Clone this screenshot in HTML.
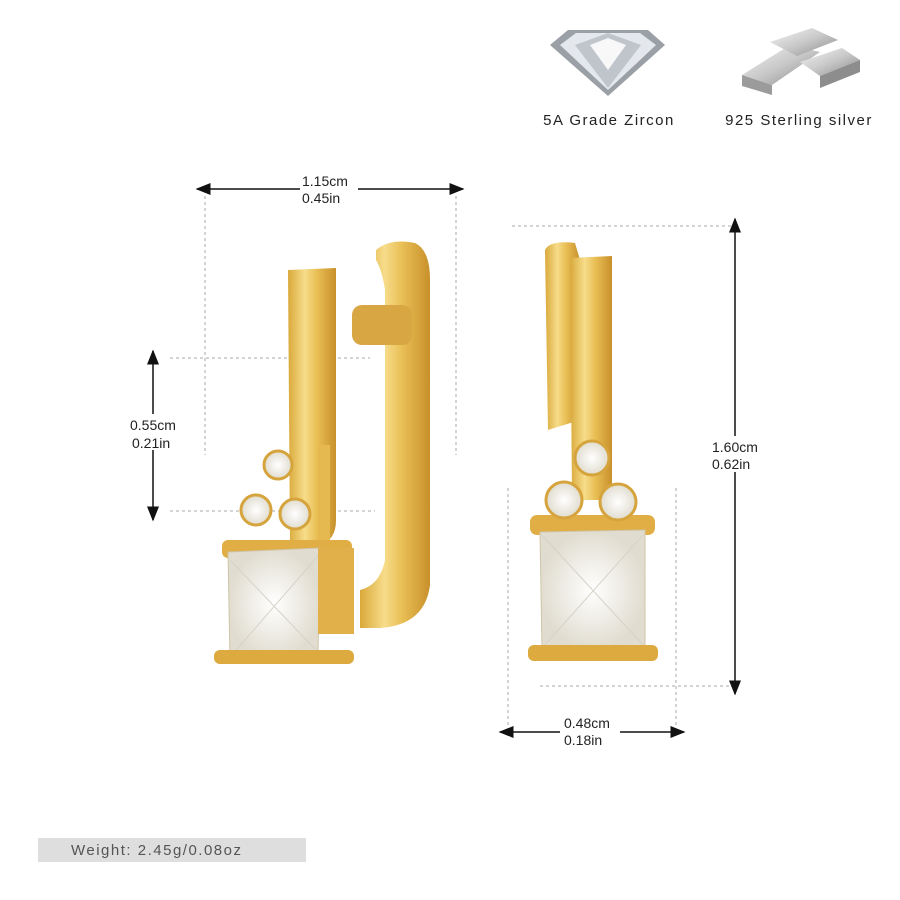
<!DOCTYPE html>
<html><head><meta charset="utf-8"><style>
body{margin:0;background:#fff;}
svg{display:block}
text{font-family:"Liberation Sans",sans-serif;}
</style></head><body>
<svg width="900" height="900" viewBox="0 0 900 900" xmlns="http://www.w3.org/2000/svg">
<defs>
<linearGradient id="g" x1="0" x2="1" y1="0" y2="0">
<stop offset="0" stop-color="#d9a93a"/><stop offset="0.35" stop-color="#f7dc8a"/><stop offset="0.6" stop-color="#e9bf55"/><stop offset="1" stop-color="#c8902a"/>
</linearGradient>
<linearGradient id="s" x1="0" x2="1" y1="0" y2="1">
<stop offset="0" stop-color="#f4f4f4"/><stop offset="0.5" stop-color="#c9c9c9"/><stop offset="1" stop-color="#8a8a8a"/>
</linearGradient>
<radialGradient id="st"><stop offset="0" stop-color="#fff"/><stop offset="1" stop-color="#e0dccf"/></radialGradient>
<marker id="a" markerWidth="10" markerHeight="10" refX="9" refY="5" orient="auto-start-reverse"><path d="M0,1 L10,5 L0,9 Z" fill="#111"/></marker>
</defs>

<!-- top icons -->
<path d="M550 45 L568 30 L648 30 L665 45 L608 96 Z" fill="#9aa0a6"/>
<path d="M560 45 L576 33 L640 33 L656 45 L608 90 Z" fill="#e4e8ec"/>
<path d="M575 45 L608 33 L641 45 L608 88 Z" fill="#bfc5cb"/>
<path d="M590 45 L608 38 L626 45 L608 70 Z" fill="#f8f8f8"/>
<path d="M742 75 L790 45 L820 52 L772 85 Z" fill="url(#s)"/>
<path d="M742 75 L772 85 L772 95 L742 86 Z" fill="#9b9b9b"/>
<path d="M770 42 L812 28 L838 40 L797 56 Z" fill="url(#s)"/>
<path d="M800 62 L842 48 L860 60 L820 76 Z" fill="url(#s)"/>
<path d="M820 76 L860 60 L860 72 L820 88 Z" fill="#8d8d8d"/>
<text x="609" y="125" font-size="15" text-anchor="middle" letter-spacing="1.5" fill="#222">5A Grade Zircon</text>
<text x="799" y="125" font-size="15" text-anchor="middle" letter-spacing="1.5" fill="#222">925 Sterling silver</text>

<!-- dashed guides -->
<g stroke="#aaa" stroke-width="1" stroke-dasharray="3,3" fill="none">
<line x1="205" y1="196" x2="205" y2="455"/><line x1="456" y1="196" x2="456" y2="455"/>
<line x1="170" y1="358" x2="370" y2="358"/><line x1="170" y1="511" x2="375" y2="511"/>
<line x1="512" y1="226" x2="735" y2="226"/><line x1="540" y1="686" x2="735" y2="686"/>
<line x1="508" y1="488" x2="508" y2="725"/><line x1="676" y1="488" x2="676" y2="725"/>
</g>
<!-- arrows -->
<g stroke="#111" stroke-width="1.5" marker-start="url(#a)" marker-end="url(#a)">
<line x1="197" y1="189" x2="463" y2="189"/>
<line x1="153" y1="351" x2="153" y2="520"/>
<line x1="735" y1="219" x2="735" y2="694"/>
<line x1="500" y1="732" x2="684" y2="732"/>
</g>
<g font-size="14" fill="#222">
<rect x="300" y="172" width="58" height="34" fill="#fff"/>
<text x="302" y="186">1.15cm</text><text x="302" y="203">0.45in</text>
<rect x="128" y="414" width="60" height="36" fill="#fff"/>
<text x="130" y="430">0.55cm</text><text x="132" y="448">0.21in</text>
<rect x="710" y="436" width="60" height="36" fill="#fff"/>
<text x="712" y="452">1.60cm</text><text x="712" y="469">0.62in</text>
<rect x="560" y="714" width="60" height="34" fill="#fff"/>
<text x="564" y="728">0.48cm</text><text x="564" y="745">0.18in</text>
</g>

<!-- left earring -->
<path d="M376 250 Q390 238 415 243 Q430 250 430 280 L430 585 Q425 625 380 628 L360 628 L360 590 Q380 585 385 560 L385 290 Q382 270 376 260 Z" fill="url(#g)"/>
<rect x="352" y="305" width="60" height="40" rx="10" fill="#d8a643"/>
<path d="M288 270 L336 268 L336 520 Q336 540 320 545 L290 545 Z" fill="url(#g)"/>
<path d="M318 445 L330 445 L330 620 L318 620 Z" fill="#e6b850"/>
<rect x="222" y="540" width="130" height="18" rx="6" fill="#e0ae45"/>
<path d="M228 552 L320 548 L318 655 L230 660 Z" fill="url(#st)" stroke="#cfc4a8"/>
<path d="M230 560 L316 650 M318 556 L232 655" stroke="#d6d2c8"/>
<rect x="318" y="548" width="36" height="86" fill="#e1b04b"/>
<rect x="214" y="650" width="140" height="14" rx="6" fill="#dcaa3f"/>
<circle cx="278" cy="465" r="14" fill="url(#st)" stroke="#d6a43c" stroke-width="3"/>
<circle cx="256" cy="510" r="15" fill="url(#st)" stroke="#d6a43c" stroke-width="3"/>
<circle cx="295" cy="514" r="15" fill="url(#st)" stroke="#d6a43c" stroke-width="3"/>

<!-- right earring -->
<path d="M545 250 Q550 240 575 243 L580 260 L580 420 L548 430 Z" fill="url(#g)"/>
<path d="M570 258 L612 256 L612 500 L572 500 Z" fill="url(#g)"/>
<rect x="530" y="515" width="125" height="20" rx="7" fill="#e0ae45"/>
<path d="M540 532 L645 530 L645 648 L542 650 Z" fill="url(#st)" stroke="#cfc4a8"/>
<path d="M542 535 L643 645 M643 535 L544 646" stroke="#d6d2c8"/>
<rect x="528" y="645" width="130" height="16" rx="6" fill="#dcaa3f"/>
<circle cx="592" cy="458" r="17" fill="url(#st)" stroke="#d6a43c" stroke-width="3"/>
<circle cx="564" cy="500" r="18" fill="url(#st)" stroke="#d6a43c" stroke-width="3"/>
<circle cx="618" cy="502" r="18" fill="url(#st)" stroke="#d6a43c" stroke-width="3"/>

<!-- weight -->
<rect x="38" y="838" width="268" height="24" fill="#dedede"/>
<text x="71" y="855" font-size="15" letter-spacing="1.5" fill="#555">Weight: 2.45g/0.08oz</text>
</svg>
</body></html>
